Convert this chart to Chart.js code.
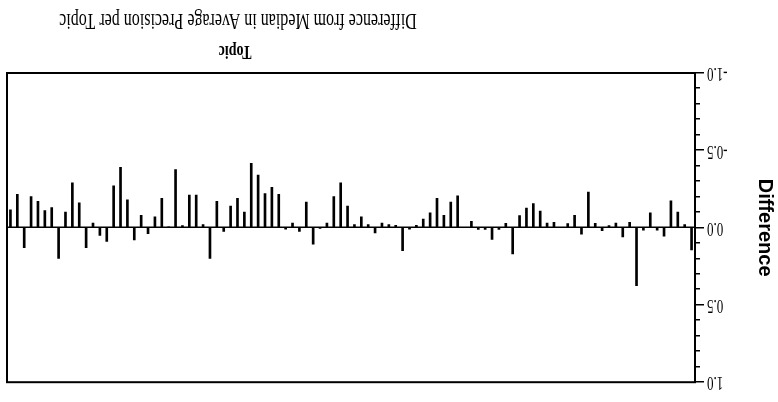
<!DOCTYPE html>
<html><head><meta charset="utf-8">
<script src="https://cdn.jsdelivr.net/npm/chart.js@4.4.0/dist/chart.umd.min.js"></script>
<style>
html,body{margin:0;padding:0;background:#fff;}
#wrap{width:778px;height:402px;transform:rotate(180deg);transform-origin:50% 50%;}
canvas{display:block;}
</style></head><body>
<div id="wrap"><canvas id="c" width="778" height="402"></canvas></div>
<script>
const titleText = "Difference from Median in Average Precision per Topic";
const xAxisTitle = "Topic";
const yAxisTitle = "Difference";
const yTickLabels = ["-1.0", "-0.5", "0.0", "0.5", "1.0"];
const topics = ["1","2","3","4","5","6","7","8","9","10","11","12","13","14","15","16","17","18","19","20",
"21","22","23","24","25","26","27","28","29","30","31","32","33","34","35","36","37","38","39","40",
"41","42","43","44","45","46","47","48","49","50","51","52","53","54","55","56","57","58","59","60",
"61","62","63","64","65","66","67","68","69","70","71","72","73","74","75","76","77","78","79","80",
"81","82","83","84","85","86","87","88","89","90","91","92","93","94","95","96","97","98","99","100"];
const differences = [
 0.145, -0.02, -0.10, -0.173, 0.055, 0.017, -0.096, 0.017, 0.376, -0.034,
 0.06, -0.03, -0.013, 0.02, -0.028, -0.23, 0.043, -0.08, -0.026, 0,
 -0.034, -0.03, -0.107, -0.156, -0.126, -0.077, 0.17, -0.028, 0.012, 0.077,
 0.012, 0.012, -0.04, 0, -0.205, -0.165, -0.08, -0.19, -0.095, -0.055,
 -0.015, 0.01, 0.15, -0.015, -0.02, -0.03, 0.035, -0.02, -0.07, -0.02,
 -0.14, -0.29, -0.20, -0.03, 0.005, 0.107, -0.165, 0.025, -0.03, 0.01,
 -0.215, -0.26, -0.22, -0.34, -0.415, -0.10, -0.19, -0.14, 0.025, -0.17,
 0.20, -0.02, -0.21, -0.21, -0.013, -0.376, -0.005, -0.19, -0.07, 0.04,
 -0.08, 0.08, -0.18, -0.39, -0.27, 0.09, 0.05, -0.03, 0.13, -0.16,
 -0.29, -0.10, 0.20, -0.13, -0.11, -0.17, -0.20, 0.13, -0.216, -0.115
];

const isHalf = v => Math.abs(v * 2 - Math.round(v * 2)) < 1e-6;

// Horizontal text in the reference is drawn taller than its width suggests:
// stretch non-rotated text vertically around its anchor point.
const STRETCH = 1.4;
const canvas = document.getElementById('c');
const ctx2d = canvas.getContext('2d');
const rawFill = ctx2d.fillText.bind(ctx2d);
ctx2d.fillText = function (text, x, y, maxWidth) {
  const M = this.getTransform();
  const call = () => (maxWidth === undefined ? rawFill(text, x, y) : rawFill(text, x, y, maxWidth));
  if (Math.abs(M.b) > 1e-6 || Math.abs(M.c) > 1e-6) { call(); return; }
  const p = M.transformPoint(new DOMPoint(x, y));
  const N = new DOMMatrix().translate(p.x, p.y).scale(1, STRETCH).translate(-p.x, -p.y).multiply(M);
  this.setTransform(N);
  call();
  this.setTransform(M);
};

const decor = {
  id: 'decor',
  afterDraw(chart) {
    const {ctx, chartArea: a, scales: {y}} = chart;
    ctx.save();
    ctx.strokeStyle = '#000';
    ctx.lineWidth = 2;
    ctx.strokeRect(a.left, a.top, a.right - a.left, a.bottom - a.top);
    ctx.lineWidth = 1.5;
    y.ticks.forEach(t => {
      const py = Math.round(y.getPixelForValue(t.value)) + 0.25;
      ctx.beginPath();
      ctx.moveTo(a.left, py);
      ctx.lineTo(a.left - (isHalf(t.value) ? 9 : 5), py);
      ctx.stroke();
    });
    ctx.fillStyle = '#000';
    ctx.textAlign = 'center';
    ctx.textBaseline = 'middle';
    ctx.font = 'bold 14px "Liberation Serif"';
    ctx.fillText(xAxisTitle, 543, 351);
    ctx.font = '16px "Liberation Serif"';
    ctx.fillText(titleText, 540, 382);
    ctx.restore();
  }
};

new Chart(canvas, {
  type: 'bar',
  data: {
    labels: topics,
    datasets: [{
      data: differences,
      backgroundColor: '#000',
      borderWidth: 0,
      barThickness: 2
    }]
  },
  options: {
    responsive: false,
    animation: false,
    devicePixelRatio: 1,
    layout: {padding: {left: 0, top: 18, right: 7, bottom: 0}},
    plugins: {legend: {display: false}, tooltip: {enabled: false}, title: {display: false}},
    scales: {
      x: {
        type: 'category',
        offset: true,
        ticks: {display: false},
        grid: {display: false, drawTicks: false},
        border: {display: false},
        afterFit(s) { s.height = 73; }
      },
      y: {
        min: -1, max: 1,
        ticks: {
          stepSize: 0.1,
          autoSkip: false,
          padding: 12,
          color: '#000',
          font: {family: '"Liberation Serif"', size: 13},
          callback: v => isHalf(v) ? yTickLabels[Math.round(v * 2) + 2] : ''
        },
        grid: {
          drawTicks: false,
          color: c => (c.tick && Math.abs(c.tick.value) < 1e-9) ? '#000' : 'rgba(0,0,0,0)',
          lineWidth: 1.5
        },
        border: {display: false},
        title: {
          display: true,
          text: yAxisTitle,
          color: '#000',
          font: {family: '"Liberation Sans"', size: 20, weight: 'bold'},
          padding: {top: 1, bottom: 0}
        },
        afterFit(s) { s.width = 83; }
      }
    }
  },
  plugins: [decor]
});
</script>
</body></html>
